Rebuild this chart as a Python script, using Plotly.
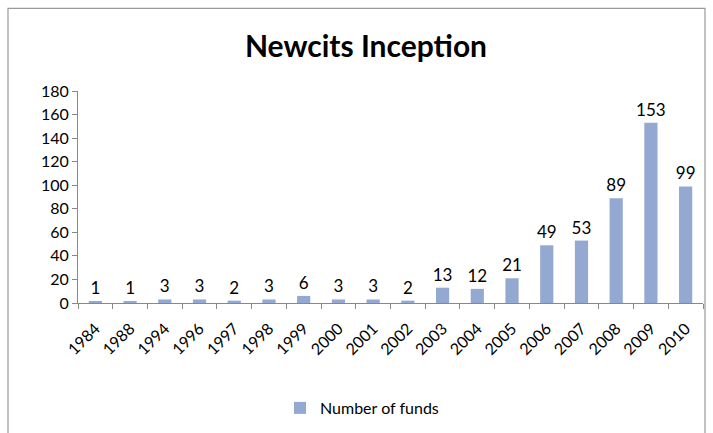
import plotly.graph_objects as go

years = ["1984", "1988", "1994", "1996", "1997", "1998", "1999", "2000", "2001",
         "2002", "2003", "2004", "2005", "2006", "2007", "2008", "2009", "2010"]
funds = [1, 1, 3, 3, 2, 3, 6, 3, 3, 2, 13, 12, 21, 49, 53, 89, 153, 99]

W, H = 713, 433
ml, mr, mt, mb = 78, 10, 91, 129
pw, ph = W - ml - mr, H - mt - mb

def px(x):
    return (x - ml) / pw

def py(y):
    return (H - mb - y) / ph

fig = go.Figure()
fig.add_trace(go.Bar(
    x=years, y=funds, name="Number of funds",
    marker=dict(color="#93A9D2", line=dict(width=0)),
    text=[str(v) for v in funds], textposition="outside",
    textfont=dict(family="Lato", size=17, color="#000"),
    constraintext="none",
    cliponaxis=False,
))

fig.update_layout(
    width=W, height=H,
    margin=dict(l=ml, r=mr, t=mt, b=mb),
    paper_bgcolor="white", plot_bgcolor="white",
    title=dict(text="<b>Newcits Inception</b>", x=366 / W, xanchor="center",
               y=1 - 46 / H, yanchor="middle",
               font=dict(family="Lato", size=30, color="#000")),
    bargap=0.62,
    showlegend=True,
    legend=dict(orientation="h", x=px(362), xanchor="center", y=py(408), yanchor="middle",
                font=dict(family="Lato", size=16, color="#000")),
    xaxis=dict(type="category", tickangle=-45, showline=True, linecolor="#888",
               ticks="outside", ticklen=5, tickcolor="#888", tickson="boundaries",
               ticklabelstandoff=9,
               tickfont=dict(family="Lato", size=16, color="#000"), showgrid=False),
    yaxis=dict(range=[0, 180], dtick=20, showline=True, linecolor="#888",
               ticks="outside", ticklen=5, tickcolor="#888", showgrid=False,
               zeroline=False, tickfont=dict(family="Lato", size=16, color="#000")),
    shapes=[dict(type="rect", xref="paper", yref="paper",
                 x0=px(8), x1=px(705), y0=py(440), y1=py(8),
                 line=dict(color="#999", width=1.2), fillcolor="rgba(0,0,0,0)", layer="below")],
)

fig.write_html("out.html")
